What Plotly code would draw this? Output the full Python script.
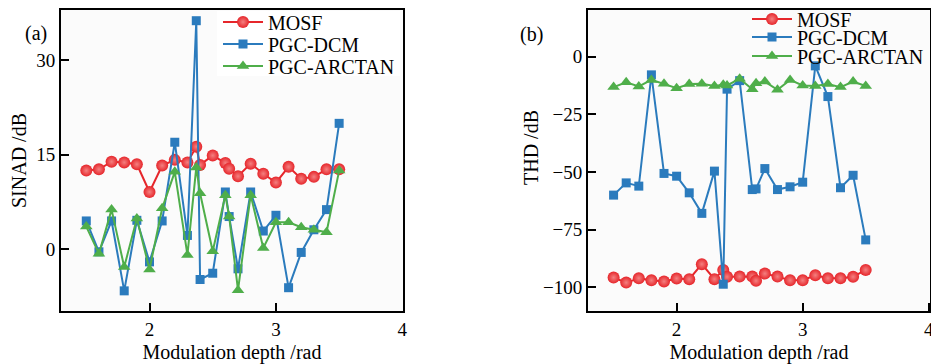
import plotly.graph_objects as go

# ---------------- data ----------------
depth = [1.5, 1.6, 1.7, 1.8, 1.9, 2.0, 2.1, 2.2, 2.3, 2.37, 2.4, 2.5, 2.6, 2.63,
         2.7, 2.8, 2.9, 3.0, 3.1, 3.2, 3.3, 3.4, 3.5]

sinad_mosf = [12.5, 12.7, 13.9, 13.8, 13.5, 9.1, 13.3, 14.2, 13.8, 16.3, 13.4, 14.9,
              13.7, 12.8, 11.6, 13.6, 12.0, 10.6, 13.1, 11.2, 11.5, 12.7, 12.7]
sinad_dcm = [4.5, -0.4, 4.5, -6.6, 4.6, -2.0, 4.5, 17.0, 2.2, 36.3, -4.8, -3.8,
             9.1, 5.2, -3.1, 9.1, 2.9, 5.4, -6.1, -0.5, 3.1, 6.3, 20.0]
sinad_arctan = [3.6, -0.7, 6.3, -2.8, 4.9, -3.2, 6.5, 12.3, -0.9, 13.0, 8.9, -0.3,
                8.6, 5.2, -6.5, 8.6, 0.2, 4.3, 4.3, 3.5, 3.1, 2.7, 12.5]

thd_mosf = [-95.7, -97.9, -96.0, -96.9, -97.4, -96.1, -96.4, -89.9, -96.4, -92.4, -95.4,
            -95.3, -95.3, -97.1, -94.0, -95.3, -96.9, -96.9, -94.7, -96.0, -96.0, -95.4, -92.4]
thd_dcm = [-60.0, -54.7, -56.1, -7.9, -50.6, -51.8, -59.0, -67.9, -49.6, -98.6, -14.1,
           -10.4, -57.6, -57.3, -48.5, -57.6, -56.4, -54.4, -4.0, -17.3, -56.8, -51.4, -79.4]
thd_arctan = [-13.2, -11.1, -12.9, -10.1, -11.8, -13.7, -11.9, -11.8, -12.7, -12.2, -12.5,
              -9.6, -14.1, -11.5, -10.8, -14.4, -10.1, -12.5, -12.7, -11.9, -13.2, -10.8, -12.7]

series_names = ["MOSF", "PGC-DCM", "PGC-ARCTAN"]
x_ticks = [2, 3, 4]
sinad_ticks = [0, 15, 30]
thd_ticks = [-100, -75, -50, -25, 0]

# ---------------- style ----------------
FONT = "Liberation Serif"
RED, BLUE, GREEN = "#e6262b", "#2b7bbd", "#4fae4a"
styles = [
    dict(color=RED, symbol="circle", size=12, gradient=dict(type="radial", color="#f48080")),
    dict(color=BLUE, symbol="square", size=9, gradient=None),
    dict(color=GREEN, symbol="triangle-up", size=11, gradient=None),
]

# page body has an 8 px margin: figure is drawn at (8, 8) in the window
OFF = 8
W, H = 939 - OFF, 364 - OFF


def px(sx):
    return (sx - OFF) / W


def py(sy):
    return 1 - (sy - OFF) / H


# legend item centres (screen px from top) and text starts (screen px from left)
left_leg_y = [22, 44, 66]
right_leg_y = [19, 37, 56]
left_leg_x = 268
right_leg_x = 797
TEXT_OFFSET = 50


def marker_of(st):
    m = dict(color=st["color"], symbol=st["symbol"], size=st["size"], line=dict(width=0))
    if st["gradient"]:
        m["gradient"] = st["gradient"]
    return m


fig = go.Figure()

left_vals = [sinad_mosf, sinad_dcm, sinad_arctan]
right_vals = [thd_mosf, thd_dcm, thd_arctan]

legends = {}
for i, (name, vals, st) in enumerate(zip(series_names, left_vals, styles)):
    lg = "legend" if i == 0 else f"legend{i + 1}"
    fig.add_trace(go.Scatter(
        x=depth, y=vals, name=name, mode="lines+markers",
        line=dict(color=st["color"], width=2), marker=marker_of(st),
        xaxis="x", yaxis="y", legend=lg,
    ))
    legends[lg] = dict(x=px(left_leg_x - TEXT_OFFSET), y=py(left_leg_y[i]),
                       xanchor="left", yanchor="middle")
for i, (name, vals, st) in enumerate(zip(series_names, right_vals, styles)):
    lg = f"legend{i + 4}"
    fig.add_trace(go.Scatter(
        x=depth, y=vals, name=name, mode="lines+markers",
        line=dict(color=st["color"], width=2), marker=marker_of(st),
        xaxis="x2", yaxis="y2", legend=lg,
    ))
    legends[lg] = dict(x=px(right_leg_x - TEXT_OFFSET), y=py(right_leg_y[i]),
                       xanchor="left", yanchor="middle")

for k, v in legends.items():
    v.update(bgcolor="rgba(0,0,0,0)", borderwidth=0, itemwidth=40,
             font=dict(family=FONT, size=20, color="black"))

ydom = [py(311), py(10)]

axis_common = dict(
    showline=True, linecolor="black", linewidth=2, mirror=True,
    ticks="inside", ticklen=8, tickwidth=1.5, tickcolor="black",
    showgrid=False, zeroline=False, automargin=False,
    tickfont=dict(family=FONT, size=19, color="black"),
)
title_font = dict(family=FONT, size=20, color="black")

fig.update_layout(
    width=W, height=H,
    margin=dict(l=0, r=0, t=0, b=0, autoexpand=False),
    paper_bgcolor="white",
    plot_bgcolor="#fbfbfb",
    font=dict(family=FONT, color="black"),
    showlegend=True,
    xaxis=dict(domain=[px(61), px(403)], range=[1.3, 4.005], tickvals=x_ticks,
               title=dict(text="Modulation depth /rad", font=title_font),
               anchor="y", **axis_common),
    yaxis=dict(domain=ydom, range=[-9.8, 38.0], tickvals=sinad_ticks,
               anchor="x", **axis_common),
    xaxis2=dict(domain=[px(588), px(930)], range=[1.297, 4.01], tickvals=x_ticks,
                title=dict(text="Modulation depth /rad", font=title_font),
                anchor="y2", **axis_common),
    yaxis2=dict(domain=ydom, range=[-110.2, 20.2], tickvals=thd_ticks,
                anchor="x2", **axis_common),
    shapes=[
        dict(type="rect", xref="paper", yref="paper",
             x0=px(217), x1=px(400), y0=py(76), y1=py(11),
             fillcolor="white", line=dict(width=0), layer="below"),
    ],
    annotations=[
        dict(text="(a)", x=px(23), y=py(20), xref="paper", yref="paper",
             showarrow=False, font=dict(family=FONT, size=20, color="black")),
        dict(text="(b)", x=px(531), y=py(21), xref="paper", yref="paper",
             showarrow=False, font=dict(family=FONT, size=20, color="black")),
        dict(text="SINAD /dB", x=px(19), y=py(161), xref="paper", yref="paper",
             textangle=-90, showarrow=False, xanchor="center", yanchor="middle",
             font=title_font),
        dict(text="THD /dB", x=px(531), y=py(148), xref="paper", yref="paper",
             textangle=-90, showarrow=False, xanchor="center", yanchor="middle",
             font=title_font),
    ],
    **legends,
)

fig.write_html("out.html")
